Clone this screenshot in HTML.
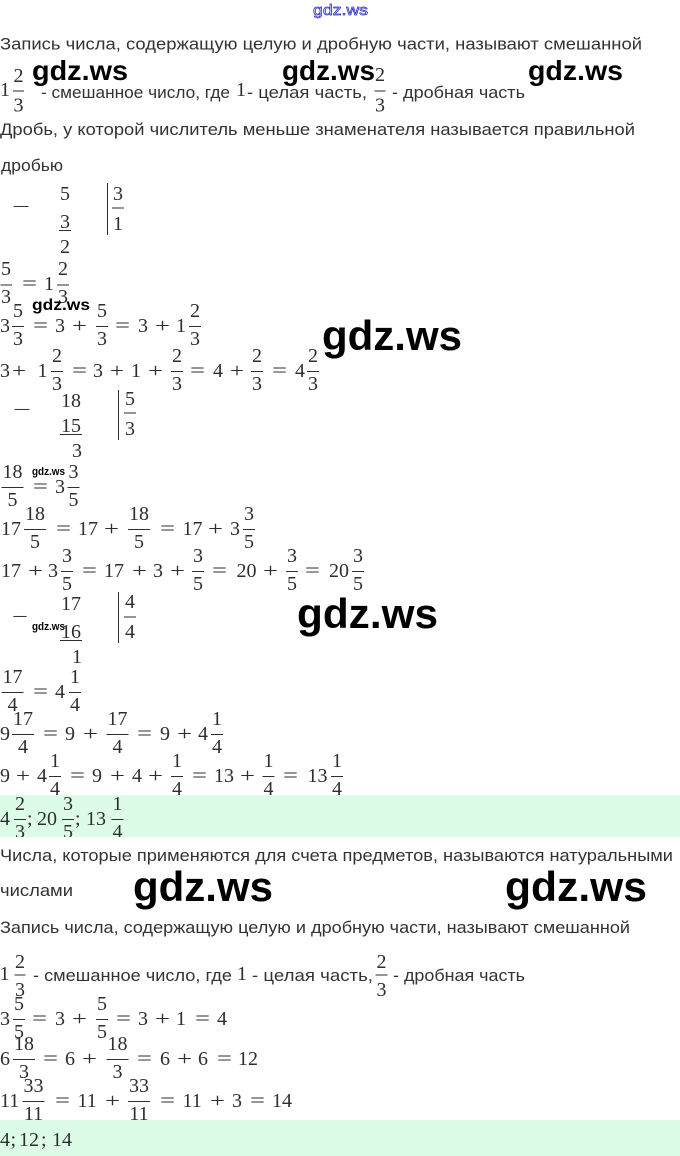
<!DOCTYPE html>
<html><head><meta charset="utf-8">
<style>
html,body{margin:0;padding:0;background:#fff;}
body{width:680px;height:1156px;overflow:hidden;}
svg{display:block}
.t{font-family:"Liberation Sans",sans-serif;font-size:16.5px;fill:#333}
.m{font-family:"Liberation Serif",serif;font-size:20px;fill:#2e2e2e}
.c{text-anchor:middle}
.w{font-family:"Liberation Sans",sans-serif;font-weight:bold;fill:#000}
rect.b{fill:#2e2e2e}
</style></head><body>
<svg width="680" height="1156" viewBox="0 0 680 1156" xmlns="http://www.w3.org/2000/svg">
<rect x="0" y="0" width="680" height="1156" fill="#fff"/>

<!-- top link -->
<text x="313" y="15" font-family="Liberation Sans, sans-serif" font-size="15" fill="#e6e6ff" stroke="#3030c8" stroke-width="0.7" textLength="55" lengthAdjust="spacingAndGlyphs">gdz.ws</text>

<!-- text block 1 -->
<text class="t" x="0" y="49.5" textLength="642" lengthAdjust="spacingAndGlyphs">Запись числа, содержащую целую и дробную части, называют смешанной</text>

<!-- 1 2/3 line -->
<text class="m" x="0" y="96">1</text>
<text class="m c" x="18.5" y="82">2</text><rect class="b" x="13" y="90.5" width="11" height="1"/><text class="m c" x="18.5" y="111.5">3</text>
<text class="t" x="41" y="98" textLength="189" lengthAdjust="spacingAndGlyphs">- смешанное число, где</text>
<text class="m" x="236" y="96">1</text>
<text class="t" x="247" y="98" textLength="120" lengthAdjust="spacingAndGlyphs">- целая часть,</text>
<text class="m c" x="380" y="81">2</text><rect class="b" x="374.5" y="90.5" width="11" height="1"/><text class="m c" x="380" y="111.5">3</text>
<text class="t" x="392" y="98" textLength="133" lengthAdjust="spacingAndGlyphs">- дробная часть</text>

<text class="t" x="0" y="135" textLength="635" lengthAdjust="spacingAndGlyphs">Дробь, у которой числитель меньше знаменателя называется правильной</text>
<text class="t" x="1" y="171" textLength="62" lengthAdjust="spacingAndGlyphs">дробью</text>

<!-- division 1 -->
<text class="m" x="12" y="213" textLength="18" lengthAdjust="spacingAndGlyphs">−</text>
<text class="m" x="60" y="200">5</text>
<text class="m" x="60" y="228">3</text><rect class="b" x="59" y="230" width="12" height="1"/>
<text class="m" x="60" y="253">2</text>
<rect class="b" x="107" y="183" width="1" height="52"/>
<text class="m" x="113" y="200">3</text><rect class="b" x="112" y="207.5" width="12" height="1"/>
<text class="m" x="113" y="230">1</text>

<!-- M2 B=290 -->
<text class="m c" x="6" y="275">5</text><rect class="b" x="0.5" y="284.5" width="11.5" height="1"/><text class="m c" x="6" y="303">3</text>
<text class="m" x="22" y="290" textLength="15" lengthAdjust="spacingAndGlyphs">=</text>
<text class="m" x="44" y="290">1</text>
<text class="m c" x="63" y="275">2</text><rect class="b" x="57" y="284.5" width="12" height="1"/><text class="m c" x="63" y="303">3</text>

<!-- M3 B=332 -->
<text class="m" x="0" y="332">3</text>
<text class="m c" x="18" y="317">5</text><rect class="b" x="12" y="326" width="12" height="1"/><text class="m c" x="18" y="345">3</text>
<text class="m" x="33" y="332" textLength="15" lengthAdjust="spacingAndGlyphs">=</text>
<text class="m" x="55" y="332">3</text>
<text class="m" x="72" y="332" textLength="15" lengthAdjust="spacingAndGlyphs">+</text>
<text class="m c" x="102" y="317">5</text><rect class="b" x="96" y="326" width="12" height="1"/><text class="m c" x="102" y="345">3</text>
<text class="m" x="115" y="332" textLength="15" lengthAdjust="spacingAndGlyphs">=</text>
<text class="m" x="138" y="332">3</text>
<text class="m" x="155" y="332" textLength="15" lengthAdjust="spacingAndGlyphs">+</text>
<text class="m" x="176" y="332">1</text>
<text class="m c" x="195" y="317">2</text><rect class="b" x="189" y="326" width="12" height="1"/><text class="m c" x="195" y="345">3</text>

<!-- M4 B=377 -->
<text class="m" x="0" y="377">3</text>
<text class="m" x="12" y="377" textLength="14" lengthAdjust="spacingAndGlyphs">+</text>
<text class="m" x="37.5" y="377">1</text>
<text class="m c" x="57" y="362">2</text><rect class="b" x="51" y="371" width="12" height="1"/><text class="m c" x="57" y="390">3</text>
<text class="m" x="72" y="377" textLength="15" lengthAdjust="spacingAndGlyphs">=</text>
<text class="m" x="93" y="377">3</text>
<text class="m" x="110" y="377" textLength="14" lengthAdjust="spacingAndGlyphs">+</text>
<text class="m" x="131" y="377">1</text>
<text class="m" x="148" y="377" textLength="15" lengthAdjust="spacingAndGlyphs">+</text>
<text class="m c" x="177" y="362">2</text><rect class="b" x="171" y="371" width="12" height="1"/><text class="m c" x="177" y="390">3</text>
<text class="m" x="190" y="377" textLength="15" lengthAdjust="spacingAndGlyphs">=</text>
<text class="m" x="213" y="377">4</text>
<text class="m" x="230" y="377" textLength="14" lengthAdjust="spacingAndGlyphs">+</text>
<text class="m c" x="257" y="362">2</text><rect class="b" x="251" y="371" width="12" height="1"/><text class="m c" x="257" y="390">3</text>
<text class="m" x="272" y="377" textLength="15" lengthAdjust="spacingAndGlyphs">=</text>
<text class="m" x="295" y="377">4</text>
<text class="m c" x="313" y="362">2</text><rect class="b" x="307" y="371" width="12" height="1"/><text class="m c" x="313" y="390">3</text>

<!-- division 2 -->
<text class="m" x="13" y="416" textLength="18" lengthAdjust="spacingAndGlyphs">−</text>
<text class="m" x="61" y="407">18</text>
<text class="m" x="61" y="432">15</text><rect class="b" x="60" y="434" width="22" height="1"/>
<text class="m" x="72" y="457">3</text>
<rect class="b" x="118" y="390" width="1" height="50"/>
<text class="m" x="125" y="405">5</text><rect class="b" x="124" y="412.5" width="12" height="1"/>
<text class="m" x="125" y="435">3</text>

<!-- M5 B=493 -->
<text class="m c" x="12.5" y="478">18</text><rect class="b" x="1.5" y="487" width="22" height="1"/><text class="m c" x="12.5" y="506">5</text>
<text class="m" x="33" y="493" textLength="15" lengthAdjust="spacingAndGlyphs">=</text>
<text class="m" x="55" y="493">3</text>
<text class="m c" x="73.5" y="478">3</text><rect class="b" x="67.5" y="487" width="12" height="1"/><text class="m c" x="73.5" y="506">5</text>

<!-- M6 B=535 -->
<text class="m" x="1" y="535">17</text>
<text class="m c" x="35" y="520">18</text><rect class="b" x="24" y="529" width="22" height="1"/><text class="m c" x="35" y="548">5</text>
<text class="m" x="56" y="535" textLength="15" lengthAdjust="spacingAndGlyphs">=</text>
<text class="m" x="78" y="535">17</text>
<text class="m" x="104" y="535" textLength="15" lengthAdjust="spacingAndGlyphs">+</text>
<text class="m c" x="139" y="520">18</text><rect class="b" x="128" y="529" width="22" height="1"/><text class="m c" x="139" y="548">5</text>
<text class="m" x="160" y="535" textLength="15" lengthAdjust="spacingAndGlyphs">=</text>
<text class="m" x="182.5" y="535">17</text>
<text class="m" x="208" y="535" textLength="15" lengthAdjust="spacingAndGlyphs">+</text>
<text class="m" x="230" y="535">3</text>
<text class="m c" x="249" y="520">3</text><rect class="b" x="243" y="529" width="12" height="1"/><text class="m c" x="249" y="548">5</text>

<!-- M7 B=577 -->
<text class="m" x="1" y="577">17</text>
<text class="m" x="28" y="577" textLength="15" lengthAdjust="spacingAndGlyphs">+</text>
<text class="m" x="48" y="577">3</text>
<text class="m c" x="67" y="562">3</text><rect class="b" x="61" y="571" width="12" height="1"/><text class="m c" x="67" y="590">5</text>
<text class="m" x="82" y="577" textLength="15" lengthAdjust="spacingAndGlyphs">=</text>
<text class="m" x="104" y="577">17</text>
<text class="m" x="132" y="577" textLength="15" lengthAdjust="spacingAndGlyphs">+</text>
<text class="m" x="153" y="577">3</text>
<text class="m" x="170" y="577" textLength="15" lengthAdjust="spacingAndGlyphs">+</text>
<text class="m c" x="198" y="562">3</text><rect class="b" x="192" y="571" width="12" height="1"/><text class="m c" x="198" y="590">5</text>
<text class="m" x="212" y="577" textLength="15" lengthAdjust="spacingAndGlyphs">=</text>
<text class="m" x="236.5" y="577">20</text>
<text class="m" x="263" y="577" textLength="15" lengthAdjust="spacingAndGlyphs">+</text>
<text class="m c" x="292" y="562">3</text><rect class="b" x="286" y="571" width="12" height="1"/><text class="m c" x="292" y="590">5</text>
<text class="m" x="305" y="577" textLength="15" lengthAdjust="spacingAndGlyphs">=</text>
<text class="m" x="329" y="577">20</text>
<text class="m c" x="358" y="562">3</text><rect class="b" x="352" y="571" width="12" height="1"/><text class="m c" x="358" y="590">5</text>

<!-- division 3 -->
<text class="m" x="12" y="623" textLength="16" lengthAdjust="spacingAndGlyphs">−</text>
<text class="m" x="61" y="610">17</text>
<text class="m" x="61" y="638">16</text><rect class="b" x="60" y="640" width="22" height="1"/>
<text class="m" x="72" y="663">1</text>
<rect class="b" x="118" y="592" width="1" height="51"/>
<text class="m" x="125" y="608">4</text><rect class="b" x="124" y="616.5" width="12" height="1"/>
<text class="m" x="125" y="638">4</text>

<!-- M8 B=698 -->
<text class="m c" x="12.5" y="683">17</text><rect class="b" x="1.5" y="692" width="22" height="1"/><text class="m c" x="12.5" y="711">4</text>
<text class="m" x="33" y="698" textLength="15" lengthAdjust="spacingAndGlyphs">=</text>
<text class="m" x="55" y="698">4</text>
<text class="m c" x="75" y="683">1</text><rect class="b" x="69" y="692" width="12" height="1"/><text class="m c" x="75" y="711">4</text>

<!-- M9 B=740 -->
<text class="m" x="0" y="740">9</text>
<text class="m c" x="23" y="725">17</text><rect class="b" x="12" y="734" width="22" height="1"/><text class="m c" x="23" y="753">4</text>
<text class="m" x="43" y="740" textLength="15" lengthAdjust="spacingAndGlyphs">=</text>
<text class="m" x="65" y="740">9</text>
<text class="m" x="83" y="740" textLength="15" lengthAdjust="spacingAndGlyphs">+</text>
<text class="m c" x="117.5" y="725">17</text><rect class="b" x="106.5" y="734" width="22" height="1"/><text class="m c" x="117.5" y="753">4</text>
<text class="m" x="137" y="740" textLength="15" lengthAdjust="spacingAndGlyphs">=</text>
<text class="m" x="160" y="740">9</text>
<text class="m" x="177" y="740" textLength="15" lengthAdjust="spacingAndGlyphs">+</text>
<text class="m" x="198" y="740">4</text>
<text class="m c" x="217" y="725">1</text><rect class="b" x="211" y="734" width="12" height="1"/><text class="m c" x="217" y="753">4</text>

<!-- M10 B=782 -->
<text class="m" x="0" y="782">9</text>
<text class="m" x="16" y="782" textLength="14" lengthAdjust="spacingAndGlyphs">+</text>
<text class="m" x="37" y="782">4</text>
<text class="m c" x="55" y="767">1</text><rect class="b" x="49" y="776" width="12" height="1"/><text class="m c" x="55" y="795">4</text>
<text class="m" x="70" y="782" textLength="15" lengthAdjust="spacingAndGlyphs">=</text>
<text class="m" x="92" y="782">9</text>
<text class="m" x="110" y="782" textLength="15" lengthAdjust="spacingAndGlyphs">+</text>
<text class="m" x="132" y="782">4</text>
<text class="m" x="148" y="782" textLength="15" lengthAdjust="spacingAndGlyphs">+</text>
<text class="m c" x="177" y="767">1</text><rect class="b" x="171" y="776" width="12" height="1"/><text class="m c" x="177" y="795">4</text>
<text class="m" x="192" y="782" textLength="15" lengthAdjust="spacingAndGlyphs">=</text>
<text class="m" x="214" y="782">13</text>
<text class="m" x="240" y="782" textLength="15" lengthAdjust="spacingAndGlyphs">+</text>
<text class="m c" x="268.5" y="767">1</text><rect class="b" x="262.5" y="776" width="12" height="1"/><text class="m c" x="268.5" y="795">4</text>
<text class="m" x="283" y="782" textLength="15" lengthAdjust="spacingAndGlyphs">=</text>
<text class="m" x="307.5" y="782">13</text>
<text class="m c" x="337" y="767">1</text><rect class="b" x="331" y="776" width="12" height="1"/><text class="m c" x="337" y="795">4</text>

<!-- answer box 1 -->
<defs><clipPath id="cp1"><rect x="0" y="795" width="680" height="42"/></clipPath>
<clipPath id="cp2"><rect x="0" y="1120" width="680" height="36"/></clipPath></defs>
<rect x="0" y="795" width="680" height="42" fill="#dcfce7"/>
<g clip-path="url(#cp1)">
<text class="m" x="0" y="825">4</text>
<text class="m c" x="20" y="810">2</text><rect class="b" x="14" y="819" width="12" height="1"/><text class="m c" x="20" y="838">3</text>
<text class="m" x="27" y="825">;</text>
<text class="m" x="37" y="825">20</text>
<text class="m c" x="68" y="810">3</text><rect class="b" x="62" y="819" width="12" height="1"/><text class="m c" x="68" y="838">5</text>
<text class="m" x="75" y="825">;</text>
<text class="m" x="86" y="825">13</text>
<text class="m c" x="117.5" y="810">1</text><rect class="b" x="111.5" y="819" width="12" height="1"/><text class="m c" x="117.5" y="838">4</text>
</g>

<!-- text block 2 -->
<text class="t" x="0" y="861" textLength="673" lengthAdjust="spacingAndGlyphs">Числа, которые применяются для счета предметов, называются натуральными</text>
<text class="t" x="0" y="896" textLength="73" lengthAdjust="spacingAndGlyphs">числами</text>
<text class="t" x="0" y="933" textLength="630" lengthAdjust="spacingAndGlyphs">Запись числа, содержащую целую и дробную части, называют смешанной</text>

<!-- 1 2/3 line second -->
<text class="m" x="-0.5" y="980">1</text>
<text class="m c" x="20" y="968">2</text><rect class="b" x="14.5" y="974.5" width="11" height="1"/><text class="m c" x="20" y="996">3</text>
<text class="t" x="33" y="981" textLength="199" lengthAdjust="spacingAndGlyphs">- смешанное число, где</text>
<text class="m" x="237" y="980">1</text>
<text class="t" x="252" y="981" textLength="121" lengthAdjust="spacingAndGlyphs">- целая часть,</text>
<text class="m c" x="381.5" y="968">2</text><rect class="b" x="375.5" y="974.5" width="12" height="1"/><text class="m c" x="381.5" y="996">3</text>
<text class="t" x="393" y="981" textLength="132" lengthAdjust="spacingAndGlyphs">- дробная часть</text>

<!-- M11 B=1025 -->
<text class="m" x="0" y="1025">3</text>
<text class="m c" x="19" y="1010">5</text><rect class="b" x="13" y="1019" width="12" height="1"/><text class="m c" x="19" y="1038">5</text>
<text class="m" x="32" y="1025" textLength="15" lengthAdjust="spacingAndGlyphs">=</text>
<text class="m" x="55" y="1025">3</text>
<text class="m" x="72" y="1025" textLength="15" lengthAdjust="spacingAndGlyphs">+</text>
<text class="m c" x="102" y="1010">5</text><rect class="b" x="96" y="1019" width="12" height="1"/><text class="m c" x="102" y="1038">5</text>
<text class="m" x="116" y="1025" textLength="15" lengthAdjust="spacingAndGlyphs">=</text>
<text class="m" x="138" y="1025">3</text>
<text class="m" x="155" y="1025" textLength="15" lengthAdjust="spacingAndGlyphs">+</text>
<text class="m" x="176" y="1025">1</text>
<text class="m" x="195" y="1025" textLength="15" lengthAdjust="spacingAndGlyphs">=</text>
<text class="m" x="217" y="1025">4</text>

<!-- M12 B=1065 -->
<text class="m" x="0" y="1065">6</text>
<text class="m c" x="24" y="1050">18</text><rect class="b" x="13" y="1059" width="22" height="1"/><text class="m c" x="24" y="1078">3</text>
<text class="m" x="43" y="1065" textLength="15" lengthAdjust="spacingAndGlyphs">=</text>
<text class="m" x="65" y="1065">6</text>
<text class="m" x="82" y="1065" textLength="15" lengthAdjust="spacingAndGlyphs">+</text>
<text class="m c" x="117.5" y="1050">18</text><rect class="b" x="106.5" y="1059" width="22" height="1"/><text class="m c" x="117.5" y="1078">3</text>
<text class="m" x="137" y="1065" textLength="15" lengthAdjust="spacingAndGlyphs">=</text>
<text class="m" x="160" y="1065">6</text>
<text class="m" x="177" y="1065" textLength="15" lengthAdjust="spacingAndGlyphs">+</text>
<text class="m" x="198" y="1065">6</text>
<text class="m" x="217" y="1065" textLength="15" lengthAdjust="spacingAndGlyphs">=</text>
<text class="m" x="238" y="1065">12</text>

<!-- M13 B=1107 -->
<text class="m" x="0" y="1107">11</text>
<text class="m c" x="33.5" y="1092">33</text><rect class="b" x="22.5" y="1101" width="22" height="1"/><text class="m c" x="33.5" y="1120">11</text>
<text class="m" x="55" y="1107" textLength="15" lengthAdjust="spacingAndGlyphs">=</text>
<text class="m" x="77.5" y="1107">11</text>
<text class="m" x="105" y="1107" textLength="15" lengthAdjust="spacingAndGlyphs">+</text>
<text class="m c" x="139" y="1092">33</text><rect class="b" x="128" y="1101" width="22" height="1"/><text class="m c" x="139" y="1120">11</text>
<text class="m" x="160" y="1107" textLength="15" lengthAdjust="spacingAndGlyphs">=</text>
<text class="m" x="182.5" y="1107">11</text>
<text class="m" x="210" y="1107" textLength="15" lengthAdjust="spacingAndGlyphs">+</text>
<text class="m" x="232" y="1107">3</text>
<text class="m" x="250" y="1107" textLength="15" lengthAdjust="spacingAndGlyphs">=</text>
<text class="m" x="272" y="1107">14</text>

<!-- answer box 2 -->
<rect x="0" y="1120" width="680" height="36" fill="#dcfce7"/>
<g clip-path="url(#cp2)">
<text class="m" x="0" y="1146">4</text>
<text class="m" x="10.5" y="1146">;</text>
<text class="m" x="19" y="1146">12</text>
<text class="m" x="41" y="1146">;</text>
<text class="m" x="52" y="1146">14</text>
</g>

<!-- watermarks -->
<text class="w" x="32" y="80" font-size="28" textLength="96" lengthAdjust="spacingAndGlyphs">gdz.ws</text>
<text class="w" x="282" y="80" font-size="28" textLength="93" lengthAdjust="spacingAndGlyphs">gdz.ws</text>
<text class="w" x="528" y="80" font-size="28" textLength="95" lengthAdjust="spacingAndGlyphs">gdz.ws</text>
<text class="w" x="32" y="310" font-size="16" textLength="58" lengthAdjust="spacingAndGlyphs">gdz.ws</text>
<text class="w" x="322" y="350" font-size="42" textLength="140" lengthAdjust="spacingAndGlyphs">gdz.ws</text>
<text class="w" x="32" y="475" font-size="11" textLength="33" lengthAdjust="spacingAndGlyphs">gdz.ws</text>
<text class="w" x="297" y="628" font-size="42" textLength="141" lengthAdjust="spacingAndGlyphs">gdz.ws</text>
<text class="w" x="32" y="630" font-size="11" textLength="33" lengthAdjust="spacingAndGlyphs">gdz.ws</text>
<text class="w" x="133" y="901" font-size="42" textLength="140" lengthAdjust="spacingAndGlyphs">gdz.ws</text>
<text class="w" x="505" y="901" font-size="42" textLength="142" lengthAdjust="spacingAndGlyphs">gdz.ws</text>
</svg>
</body></html>
